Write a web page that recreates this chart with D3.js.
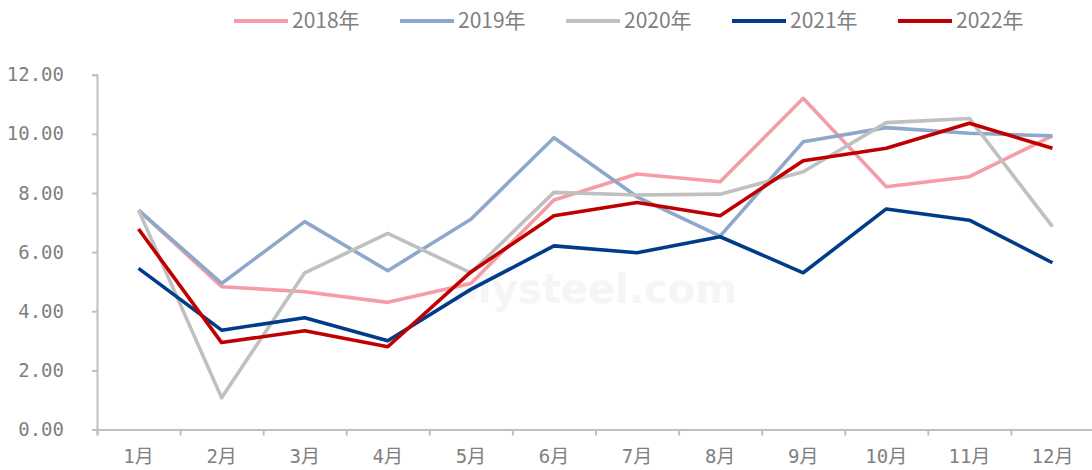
<!DOCTYPE html>
<html>
<head>
<meta charset="utf-8">
<script src="https://cdn.jsdelivr.net/npm/d3@7"></script>
<style>
  body { margin: 0; background: #fff; }
  svg { display: block; }
</style>
</head>
<body>
<div id="chart"></div>
<script>
// data
const months = ['1月', '2月', '3月', '4月', '5月', '6月', '7月', '8月', '9月', '10月', '11月', '12月'];
const years = ['2018年', '2019年', '2020年', '2021年', '2022年'];
const v2018 = [7.42, 4.83, 4.66, 4.30, 4.94, 7.76, 8.64, 8.38, 11.20, 8.21, 8.55, 9.93];
const v2019 = [7.42, 4.94, 7.03, 5.37, 7.11, 9.87, 7.87, 6.54, 9.73, 10.21, 10.02, 9.93];
const v2020 = [7.42, 1.07, 5.30, 6.63, 5.30, 8.02, 7.93, 7.96, 8.72, 10.38, 10.52, 6.86];
const v2021 = [5.45, 3.36, 3.78, 3.00, 4.74, 6.21, 5.98, 6.52, 5.30, 7.46, 7.08, 5.64];
const v2022 = [6.78, 2.94, 3.34, 2.80, 5.33, 7.23, 7.68, 7.23, 9.09, 9.51, 10.36, 9.51];
const yTicks = [0, 2, 4, 6, 8, 10, 12];

const seriesValues = [v2018, v2019, v2020, v2021, v2022];
const colors = ['#F59CA6', '#8EA8CC', '#C0C0C0', '#003C8A', '#C00000'];

const width = 1092, height = 470;
const textColor = '#808080';
const axisColor = '#BFBFBF';
const monoFont = '"DejaVu Sans Mono", "Noto Sans CJK SC", monospace';

const svg = d3.select('#chart').append('svg')
    .attr('width', width)
    .attr('height', height);

const x = d3.scaleBand()
    .domain(months)
    .range([97, 1094]);

const xEdge = d3.scaleLinear()
    .domain([0, months.length])
    .range(x.range());

const y = d3.scaleLinear()
    .domain([0, 12])
    .range([429.5, 74.7]);

// watermark (faint)
svg.append('text')
    .attr('x', 452).attr('y', 303)
    .attr('fill', '#F5F5F5')
    .style('font-family', '"DejaVu Sans", sans-serif')
    .style('font-size', '40px').style('font-weight', 'bold')
    .text('Mysteel.com');

// y axis
const gy = svg.append('g')
    .attr('transform', 'translate(' + x.range()[0] + ',0)')
    .call(d3.axisLeft(y).tickValues(yTicks).tickSize(5).tickPadding(28).tickFormat(d3.format('.2f')));
gy.select('.domain').attr('stroke', axisColor).attr('stroke-width', 2);
gy.selectAll('.tick line').attr('stroke', axisColor).attr('stroke-width', 2);
gy.selectAll('.tick text')
    .attr('fill', textColor)
    .style('font-family', monoFont)
    .style('font-size', '19px');

// x axis: ticks on band edges
const gxTicks = svg.append('g')
    .attr('transform', 'translate(0,' + y(0) + ')')
    .call(d3.axisBottom(xEdge).tickValues(d3.range(0, months.length + 1)).tickSize(6).tickFormat(''));
gxTicks.select('.domain').attr('stroke', axisColor).attr('stroke-width', 2);
gxTicks.selectAll('.tick line').attr('stroke', axisColor).attr('stroke-width', 2);

const gx = svg.append('g')
    .attr('transform', 'translate(0,' + y(0) + ')')
    .call(d3.axisBottom(x).tickSize(0).tickPadding(20));
gx.select('.domain').remove();
gx.selectAll('.tick text')
    .attr('fill', textColor)
    .style('font-family', monoFont)
    .style('font-size', '19px');

// lines
const line = d3.line()
    .x((d, i) => x(months[i]) + x.bandwidth() / 2)
    .y(d => y(d));

svg.append('g').selectAll('path')
    .data(seriesValues)
    .enter().append('path')
    .attr('d', d => line(d))
    .attr('fill', 'none')
    .attr('stroke', (d, i) => colors[i])
    .attr('stroke-width', 3.6)
    .attr('stroke-linejoin', 'round');

// legend
const legend = svg.append('g');
const item = legend.selectAll('g')
    .data(years)
    .enter().append('g')
    .attr('transform', (d, i) => 'translate(' + (234 + i * 166) + ',21)');
item.append('line')
    .attr('x1', 0).attr('x2', 54)
    .attr('stroke', (d, i) => colors[i])
    .attr('stroke-width', 4);
item.append('text')
    .attr('x', 58)
    .attr('dy', '0.35em')
    .attr('fill', textColor)
    .style('font-family', '"Liberation Sans Narrow", "Noto Sans CJK SC", sans-serif')
    .style('font-size', '21px')
    .text(d => d);
</script>
</body>
</html>
